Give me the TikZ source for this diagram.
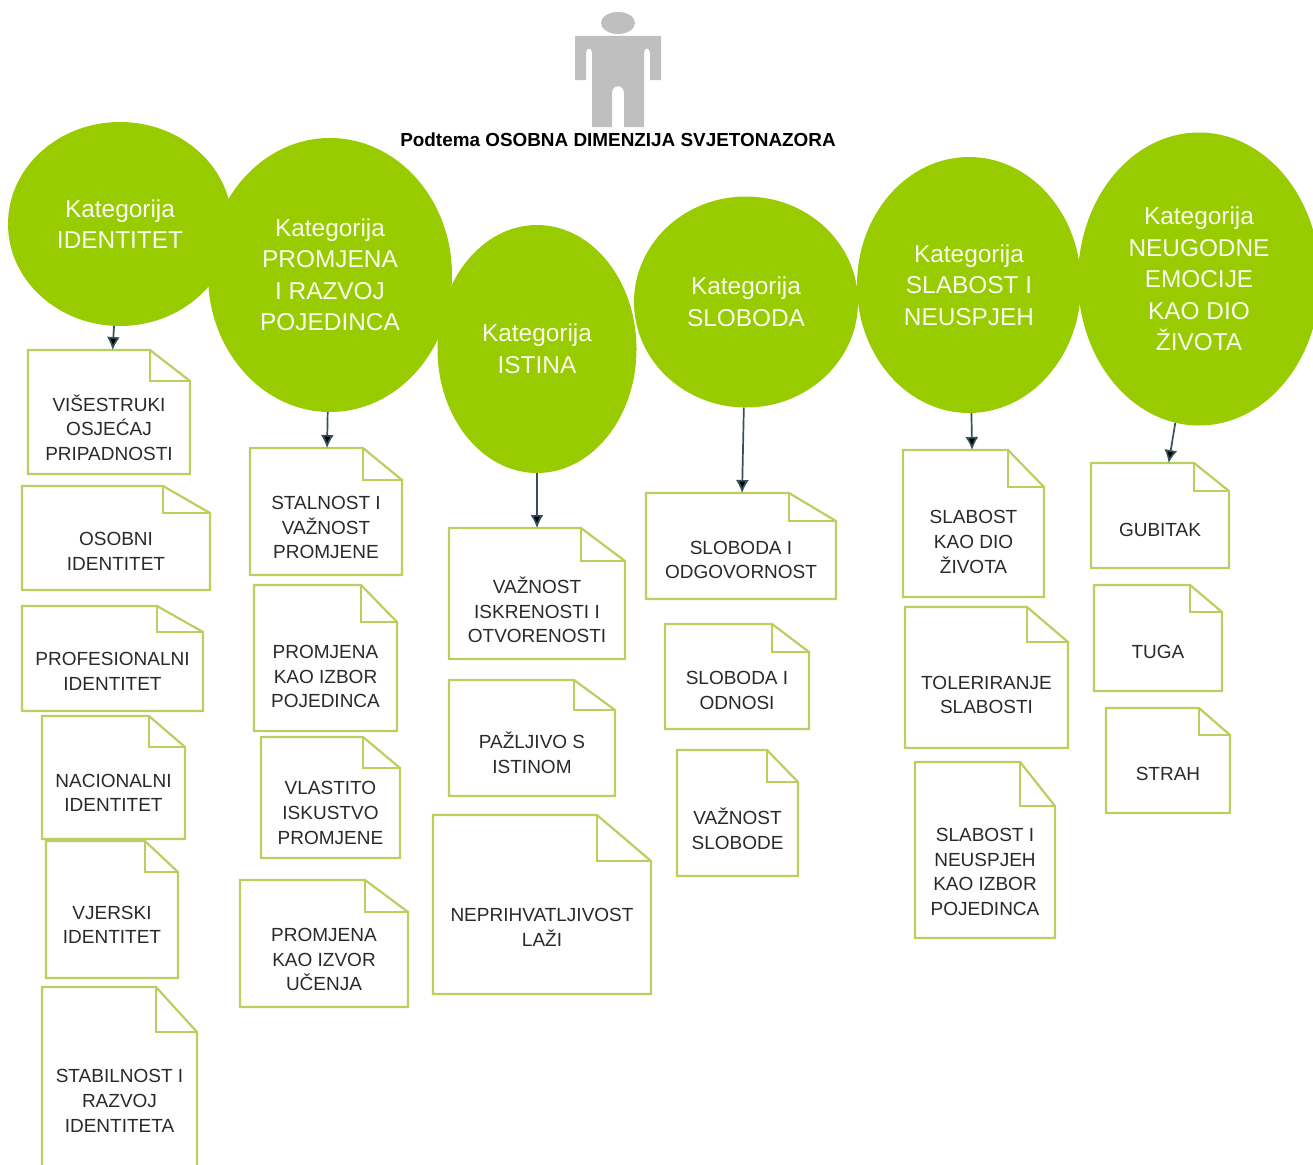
\documentclass[tikz,border=0pt]{standalone}
\usepackage{fontspec}
\setmainfont{Liberation Sans}
\usepackage{tikz}
\usetikzlibrary{arrows.meta,shapes.geometric,calc}
\definecolor{katgreen}{HTML}{99CC00}
\definecolor{noteline}{HTML}{B9D060}
\definecolor{arrowdark}{HTML}{34525A}
\definecolor{persongray}{HTML}{BFBFBF}
\definecolor{notefont}{HTML}{2A2A2A}

% name, left, top, right, bottom, fold x, fold y, text
\newcommand{\notebox}[8]{
    \draw[noteedge, fill=white] (#2,#3) -- (#6,#3) -- (#4,#7) -- (#4,#5) -- (#2,#5) -- cycle;
    \draw[noteedge] (#6,#3) -- (#6,#7) -- (#4,#7);
    \node[notearea, minimum width={(#4-#2)*1pt}, minimum height={(#5-#3)*1pt}] (#1) at ($(#2,#3)!.5!(#4,#5)$) {};
    \node[notetext] (#1txt) at ($(#2,#7)!.5!(#4,#5)$) {#8};
}

\begin{document}
\begin{tikzpicture}[
        x=1pt, y=-1pt,
        kategorija/.style={ellipse, fill=katgreen, inner sep=0pt, text=white!94!katgreen, align=center, font=\fontsize{24.4}{31.5}\selectfont},
        notearea/.style={rectangle, inner sep=0pt, outer sep=0pt},
        notetext/.style={align=center, inner sep=0pt, text=notefont, font=\fontsize{19}{24.7}\selectfont},
        noteedge/.style={draw=noteline, line width=2.2pt, line join=miter},
        arr/.style={draw=arrowdark, line width=1.7pt, -{Latex[length=13pt,width=13pt]}}
    ]
    \useasboundingbox (0,0) rectangle (1313,1164);

    % person
    \fill[persongray] (618,23) ellipse [x radius=17, y radius=11];
    \fill[persongray] (575,36) -- (661,36) -- (661,80) -- (650,80) -- (650,53)
        .. controls (650,47) and (644,47) .. (644,53) -- (644,127) -- (624,127) -- (624,93)
        .. controls (624,84) and (612,84) .. (612,93) -- (612,127) -- (592,127) -- (592,53)
        .. controls (592,47) and (586,47) .. (586,53) -- (586,80) -- (575,80) -- cycle;
    \node[inner sep=0pt, font=\fontsize{18.9}{22}\selectfont\bfseries] (podtema) at (618,140) {Podtema OSOBNA DIMENZIJA SVJETONAZORA};

    % categories
    \node[kategorija, minimum width=224pt, minimum height=204pt] (identitet) at (120,224) {Kategorija\\IDENTITET};
    \node[kategorija, minimum width=244pt, minimum height=274pt] (promjena) at (330,275) {Kategorija\\PROMJENA\\I RAZVOJ\\POJEDINCA};
    \node[kategorija, minimum width=199pt, minimum height=248pt] (istina) at (537,349) {Kategorija\\ISTINA};
    \node[kategorija, minimum width=224pt, minimum height=211pt] (sloboda) at (746,302) {Kategorija\\SLOBODA};
    \node[kategorija, minimum width=224pt, minimum height=256pt] (slabost) at (969,285) {Kategorija\\SLABOST I\\NEUSPJEH};
    \node[kategorija, minimum width=242pt, minimum height=293pt] (emocije) at (1199,279) {Kategorija\\NEUGODNE\\EMOCIJE\\KAO DIO\\ŽIVOTA};

    % notes under IDENTITET
    \notebox{visestruki}{28}{350}{190}{474}{150}{381}{VIŠESTRUKI\\OSJEĆAJ\\PRIPADNOSTI}
    \notebox{osobni}{22}{486}{210}{590}{163}{513}{OSOBNI\\IDENTITET}
    \notebox{profesionalni}{22}{606}{203}{711}{157}{632}{PROFESIONALNI\\IDENTITET}
    \notebox{vjerski}{46}{841}{178}{978}{145}{872}{VJERSKI\\IDENTITET}
    \notebox{nacionalni}{42}{716}{185}{839}{149}{747}{NACIONALNI\\IDENTITET}
    \notebox{stabilnost}{42}{987}{197}{1170}{156}{1032}{STABILNOST I\\RAZVOJ\\IDENTITETA}

    % notes under PROMJENA
    \notebox{stalnost}{250}{448}{402}{575}{363}{480}{STALNOST I\\VAŽNOST\\PROMJENE}
    \notebox{izbor}{254}{585}{397}{731}{361}{622}{PROMJENA\\KAO IZBOR\\POJEDINCA}
    \notebox{vlastito}{261}{737}{400}{858}{363}{768}{VLASTITO\\ISKUSTVO\\PROMJENE}
    \notebox{izvor}{240}{880}{408}{1007}{365}{912}{PROMJENA\\KAO IZVOR\\UČENJA}

    % notes under ISTINA
    \notebox{iskrenost}{449}{528}{625}{659}{581}{561}{VAŽNOST\\ISKRENOSTI I\\OTVORENOSTI}
    \notebox{pazljivo}{449}{680}{615}{796}{574}{710}{PAŽLJIVO S\\ISTINOM}
    \notebox{lazi}{433}{815}{651}{994}{597}{861}{NEPRIHVATLJIVOST\\LAŽI}

    % notes under SLOBODA
    \notebox{odgovornost}{646}{493}{836}{599}{789}{521}{SLOBODA I\\ODGOVORNOST}
    \notebox{odnosi}{665}{624}{809}{729}{772}{652}{SLOBODA I\\ODNOSI}
    \notebox{vaznost}{677}{750}{798}{876}{767}{782}{VAŽNOST\\SLOBODE}

    % notes under SLABOST
    \notebox{diozivota}{903}{450}{1044}{597}{1008}{487}{SLABOST\\KAO DIO\\ŽIVOTA}
    \notebox{toleriranje}{905}{607}{1068}{748}{1027}{642}{TOLERIRANJE\\SLABOSTI}
    \notebox{neuspjeh}{915}{762}{1055}{938}{1020}{806}{SLABOST I\\NEUSPJEH\\KAO IZBOR\\POJEDINCA}

    % notes under EMOCIJE
    \notebox{gubitak}{1091}{463}{1229}{568}{1194}{491}{GUBITAK}
    \notebox{tuga}{1094}{585}{1222}{691}{1190}{612}{TUGA}
    \notebox{strah}{1106}{708}{1230}{813}{1199}{735}{STRAH}

    \path[arr] (identitet) edge (visestruki);
    \path[arr] (promjena) edge (stalnost);
    \path[arr] (istina) edge (iskrenost);
    \path[arr] (sloboda) edge (odgovornost);
    \path[arr] (slabost) edge (diozivota);
    \path[arr] (emocije) edge (gubitak);
\end{tikzpicture}
\end{document}
